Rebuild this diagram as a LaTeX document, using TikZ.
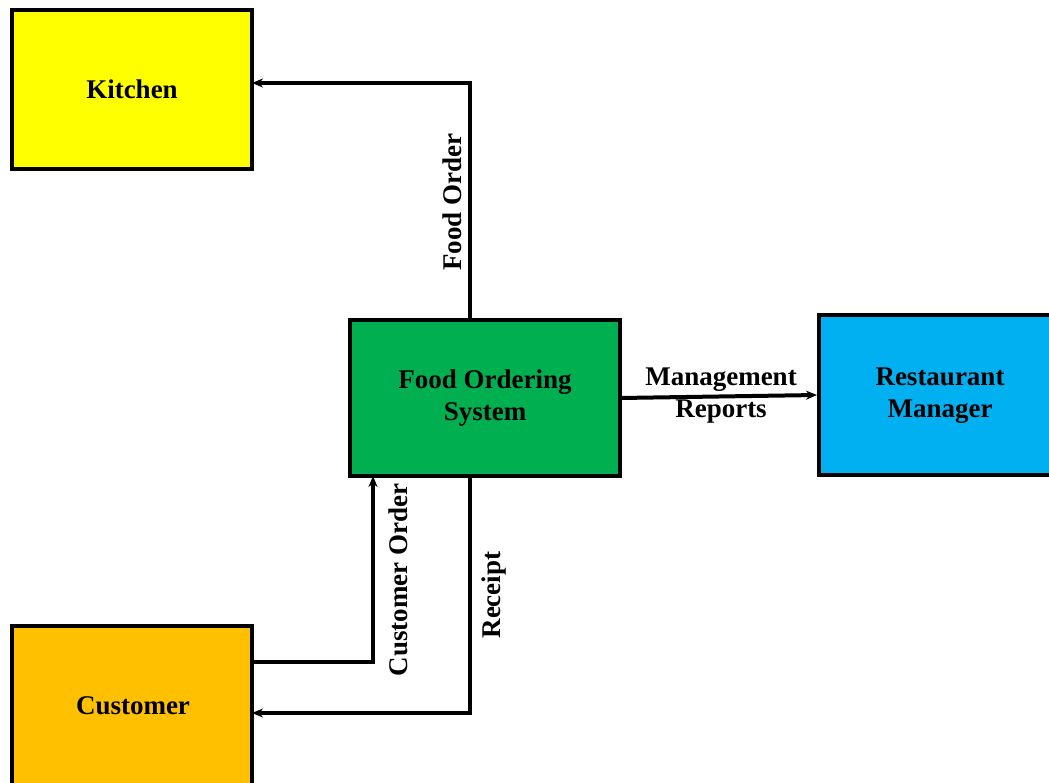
\documentclass[tikz,border=0pt]{standalone}
\usepackage{fontspec}
\setmainfont{Liberation Serif}
\usetikzlibrary{arrows.meta}
\definecolor{kitchenyellow}{HTML}{FFFF00}
\definecolor{systemgreen}{HTML}{00B050}
\definecolor{managerblue}{HTML}{00B0F0}
\definecolor{customerorange}{HTML}{FFC000}
\begin{document}
\begin{tikzpicture}[x=1pt,y=-1pt,
  entity/.style={draw=black, line width=4pt, inner sep=0pt, outer sep=0pt,
    align=center, font=\fontsize{27}{32}\selectfont\bfseries},
  flow/.style={line width=4pt, -{Stealth[length=11pt,width=9pt]}},
  flowlabel/.style={font=\fontsize{27}{32}\selectfont\bfseries, inner sep=0pt, align=center}]
\useasboundingbox (0,0) rectangle (1049,782);
\clip (0,0) rectangle (1049,782);
% entities
\node[entity, fill=kitchenyellow, minimum width=240pt, minimum height=159pt] (kitchen) at (132,89.5) {Kitchen};
\node[entity, fill=systemgreen, minimum width=270pt, minimum height=156pt] (system) at (485,398) {Food Ordering\\System};
\node[entity, fill=managerblue, minimum width=241pt, minimum height=160pt] (manager) at (939.5,395) {};
\node[entity, fill=customerorange, minimum width=240pt, minimum height=180pt] (customer) at (132,716) {};
\node[flowlabel] (managertext) at (940,396) {Restaurant\\Manager};
\node[flowlabel] (customertext) at (133,706) {Customer};
% flows
\coordinate (foodcorner) at (470,83);
\draw[flow] (system.north -| foodcorner) -- (foodcorner) -- (kitchen.east |- foodcorner);
\node[flowlabel, rotate=90] (foodlabel) at (452,202) {Food Order};

\coordinate (mgmtstart) at (620,398);
\coordinate (mgmtend) at (817,395);
\draw[flow] (mgmtstart) -- (mgmtend);
\node[flowlabel] (mgmtlabel) at (721,396) {Management\\Reports};

\coordinate (ordercorner) at (373,662);
\draw[flow] (customer.east |- ordercorner) -- (ordercorner) -- (system.south -| ordercorner);
\node[flowlabel, rotate=90] (orderlabel) at (398,580) {Customer Order};

\coordinate (receiptcorner) at (470,713);
\draw[flow] (system.south -| receiptcorner) -- (receiptcorner) -- (customer.east |- receiptcorner);
\node[flowlabel, rotate=90] (receiptlabel) at (494,595) {Receipt};
\end{tikzpicture}
\end{document}
